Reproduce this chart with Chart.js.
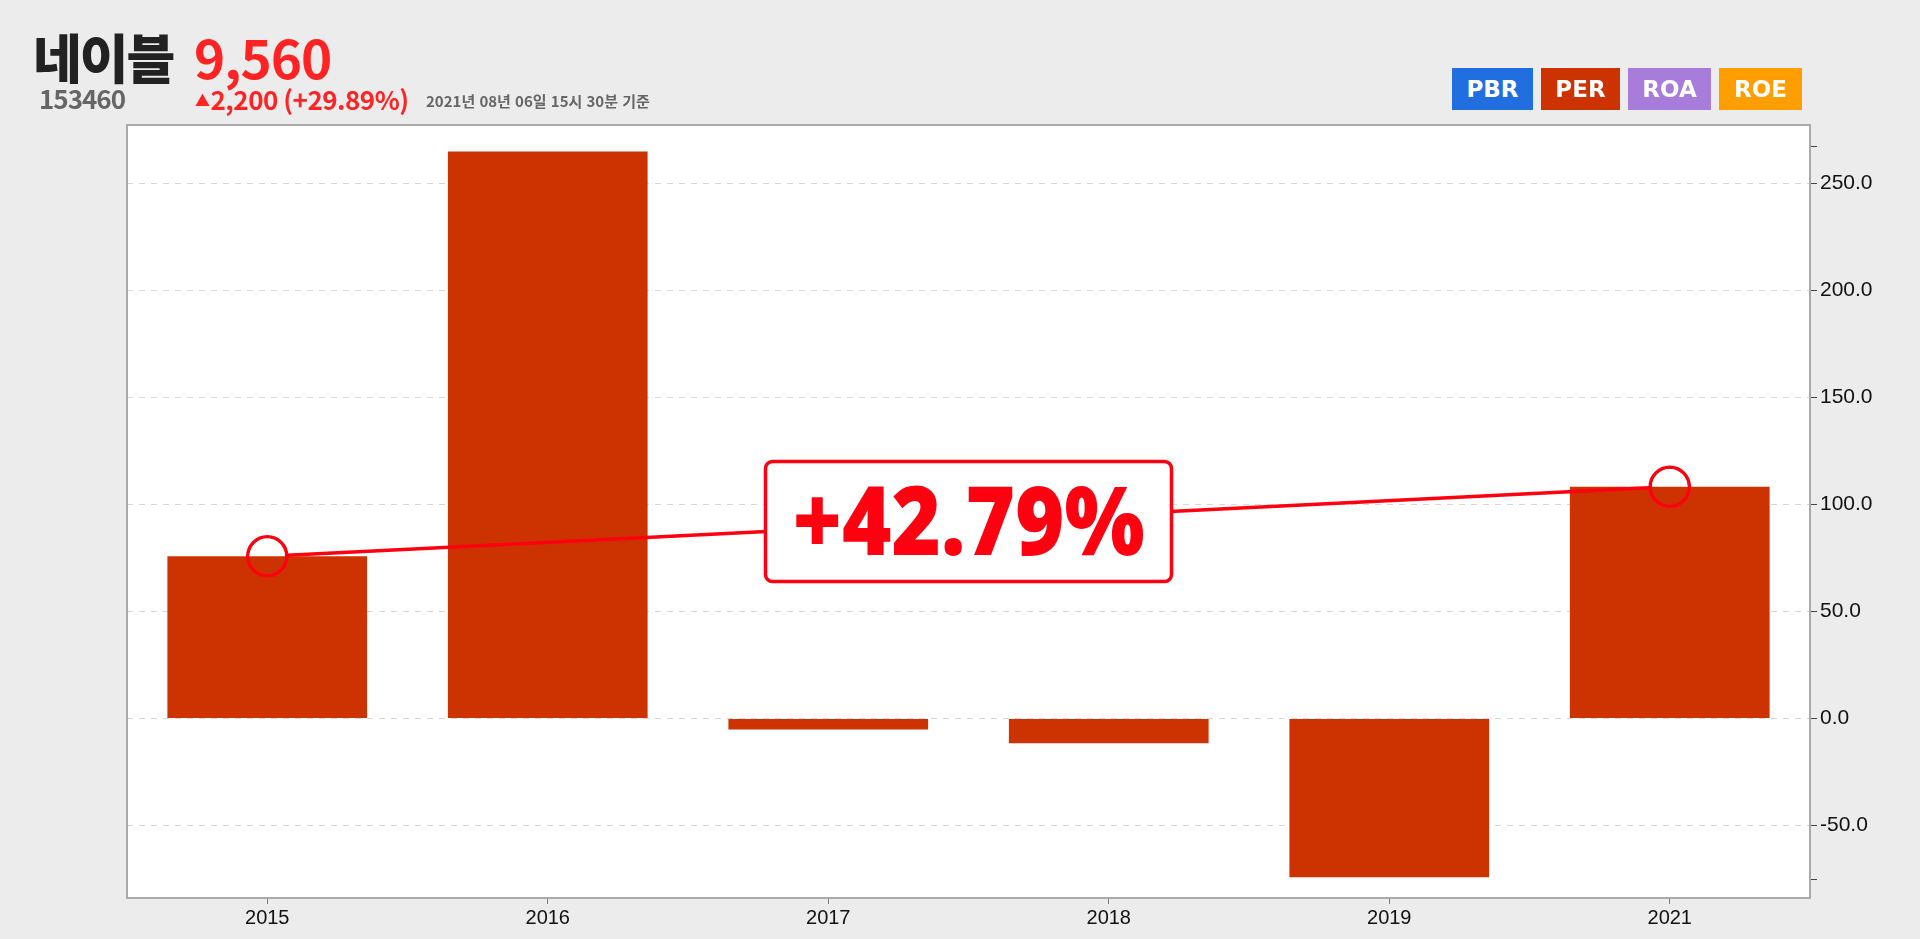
<!DOCTYPE html>
<html lang="ko">
<head>
<meta charset="utf-8">
<title>네이블 PER</title>
<script src="https://cdn.jsdelivr.net/npm/chart.js@4"></script>
<style>
  html, body { margin: 0; padding: 0; background: #ececec; }
  #wrap { position: relative; width: 1920px; height: 939px; overflow: hidden; }
  #my-chart { position: absolute; left: 0; top: 0; }
  .hd { position: absolute; font-family: "Noto Sans CJK KR", "Noto Sans", sans-serif; font-weight: 700; white-space: nowrap; line-height: 1; }
  #name { left: 33px; top: 30px; font-size: 53px; font-weight: 900; color: #222; letter-spacing: -2px; }
  #price { left: 194px; top: 30px; font-size: 53px; color: #ff2323; letter-spacing: -1px; }
  #code { left: 39px; top: 85px; font-size: 26px; color: #666; letter-spacing: -1px; }
  #change { left: 195px; top: 86px; font-size: 26px; color: #ff2323; letter-spacing: -0.5px; }
  #change .tri { font-size: 15px; vertical-align: 4px; margin-right: 1px; }
  #stamp { left: 426px; top: 93px; font-size: 15px; color: #666; }
  .lg { position: absolute; top: 68px; height: 42px; color: #fff; font: bold 23px "DejaVu Sans", sans-serif;
        display: flex; align-items: center; justify-content: center; }
</style>
</head>
<body>
<div id="wrap">
  <canvas id="my-chart" width="1920" height="939"></canvas>
  <div class="hd" id="name">네이블</div>
  <div class="hd" id="price">9,560</div>
  <div class="hd" id="code">153460</div>
  <div class="hd" id="change"><span class="tri">▲</span>2,200 (+29.89%)</div>
  <div class="hd" id="stamp">2021년 08년 06일 15시 30분 기준</div>
  <div id="legend"></div>
</div>
<script>
//  Data

const years = ['2015', '2016', '2017', '2018', '2019', '2021']
const perValues = [75.84, 264.9, -5.14, -11.54, -74.16, 108.29]
const yTickValues = [-50, 0, 50, 100, 150, 200, 250]
const edgeTicks = [-75.2, 267.4]
const yMin = -83.8
const yMax = 277.3

const legendNames = ['PBR', 'PER', 'ROA', 'ROE']
const legendColors = ['#216ee0', '#cc3300', '#a87cdb', '#ff9e00']
const legendLeft = [1452, 1541, 1628, 1719]
const legendWidth = [81, 79, 83, 83]

const first = 0
const last = perValues.length - 1
const lineValues = perValues.map((v, i) => (i === first || i === last) ? v : null)
const changePct = (perValues[last] / perValues[first] - 1) * 100

//  Legend boxes

const legend = document.querySelector('#legend')
legendNames.forEach((name, i) => {
    const box = `<div class="lg" style="left:${legendLeft[i]}px;width:${legendWidth[i]}px;background:${legendColors[i]}">${name}</div>`
    legend.insertAdjacentHTML('beforeend', box)
})

//  Plugins

const markerR = 19.5
const markerW = 3.5

const plotFrame = {
    id: 'plotFrame',
    beforeDraw(chart) {
        const { ctx, chartArea: a } = chart
        ctx.save()
        ctx.fillStyle = '#ffffff'
        ctx.fillRect(a.left, a.top, a.right - a.left, a.bottom - a.top)
        ctx.restore()
    },
    // keep the connecting line out of the hollow circles
    beforeDatasetDraw(chart, args) {
        if (args.index !== 0) return
        const ctx = chart.ctx
        const pts = args.meta.data
        ctx.save()
        ctx.beginPath()
        ctx.rect(0, 0, chart.width, chart.height)
        ;[first, last].forEach(i => {
            ctx.moveTo(pts[i].x + markerR - markerW / 2, pts[i].y)
            ctx.arc(pts[i].x, pts[i].y, markerR - markerW / 2, 0, Math.PI * 2)
        })
        ctx.clip('evenodd')
    },
    afterDatasetDraw(chart, args) {
        if (args.index === 0) chart.ctx.restore()
    },
    afterDraw(chart) {
        const { ctx, chartArea: a } = chart
        ctx.save()
        ctx.strokeStyle = '#aaaaaa'
        ctx.lineWidth = 2
        ctx.strokeRect(a.left, a.top, a.right - a.left, a.bottom - a.top)
        ctx.restore()
    }
}

const changeLabel = {
    id: 'changeLabel',
    afterDatasetsDraw(chart) {
        const pts = chart.getDatasetMeta(0).data
        const p0 = pts[first], p1 = pts[last]
        const cx = (p0.x + p1.x) / 2
        const cy = (p0.y + p1.y) / 2
        const w = 406, h = 120, r = 7
        const ctx = chart.ctx
        ctx.save()
        ctx.beginPath()
        ctx.roundRect(cx - w / 2, cy - h / 2, w, h, r)
        ctx.fillStyle = '#ffffff'
        ctx.fill()
        ctx.lineWidth = 3.5
        ctx.strokeStyle = '#ff0011'
        ctx.stroke()

        const txt = (changePct >= 0 ? '+' : '') + changePct.toFixed(2) + '%'
        const size = 95
        ctx.font = '800 ' + size + 'px "Open Sans", "Noto Sans", sans-serif'
        ctx.fillStyle = '#ff0011'
        ctx.textAlign = 'center'
        ctx.textBaseline = 'alphabetic'
        const tw = ctx.measureText(txt).width
        const sx = 352 / tw
        ctx.translate(cx, cy + size * 0.714 / 2)
        ctx.scale(sx, 1)
        ctx.fillText(txt, 0, 0)
        ctx.restore()
    }
}

//  Chart

const ctx = document.querySelector('#my-chart').getContext('2d')

const data = {
    labels: years,
    datasets: [{
        type: 'line',
        label: 'change',
        data: lineValues,
        spanGaps: true,
        borderColor: '#ff0011',
        borderWidth: 3.5,
        pointRadius: markerR,
        pointBorderWidth: markerW,
        pointBorderColor: '#ff0011',
        pointBackgroundColor: 'rgba(0,0,0,0)',
        order: 0
    }, {
        type: 'bar',
        label: 'PER',
        data: perValues,
        backgroundColor: '#cc3300',
        barPercentage: 0.712,
        categoryPercentage: 1,
        order: 1
    }]
}

const config = {
    data: data,
    options: {
        responsive: false,
        animation: false,
        layout: { padding: { left: 127, top: 125, right: 0, bottom: 0 } },
        plugins: { legend: { display: false }, tooltip: { enabled: false } },
        scales: {
            x: {
                offset: true,
                afterFit: (s) => { s.height = 41 },
                grid: { offset: false, drawOnChartArea: false, tickLength: 6, tickColor: '#777', lineWidth: 1 },
                border: { display: false },
                ticks: { color: '#111', padding: 2, font: { family: 'Liberation Sans', size: 20 } }
            },
            y: {
                position: 'right',
                min: yMin,
                max: yMax,
                afterBuildTicks: (s) => {
                    s.ticks = [edgeTicks[0], ...yTickValues, edgeTicks[1]].map(v => ({ value: v }))
                },
                afterFit: (s) => { s.width = 110 },
                grid: {
                    color: (c) => edgeTicks.includes(c.tick && c.tick.value) ? 'rgba(0,0,0,0)' : '#d8d8d8',
                    tickColor: '#444',
                    tickLength: 7,
                    lineWidth: 1
                },
                border: { display: false, dash: [6, 6] },
                ticks: {
                    color: '#111',
                    padding: 3,
                    font: { family: 'Liberation Sans', size: 21 },
                    callback: (v) => edgeTicks.includes(v) ? '' : Number(v).toFixed(1)
                }
            }
        }
    },
    plugins: [plotFrame, changeLabel]
}

const myChart = new Chart(ctx, config)
</script>
</body>
</html>
